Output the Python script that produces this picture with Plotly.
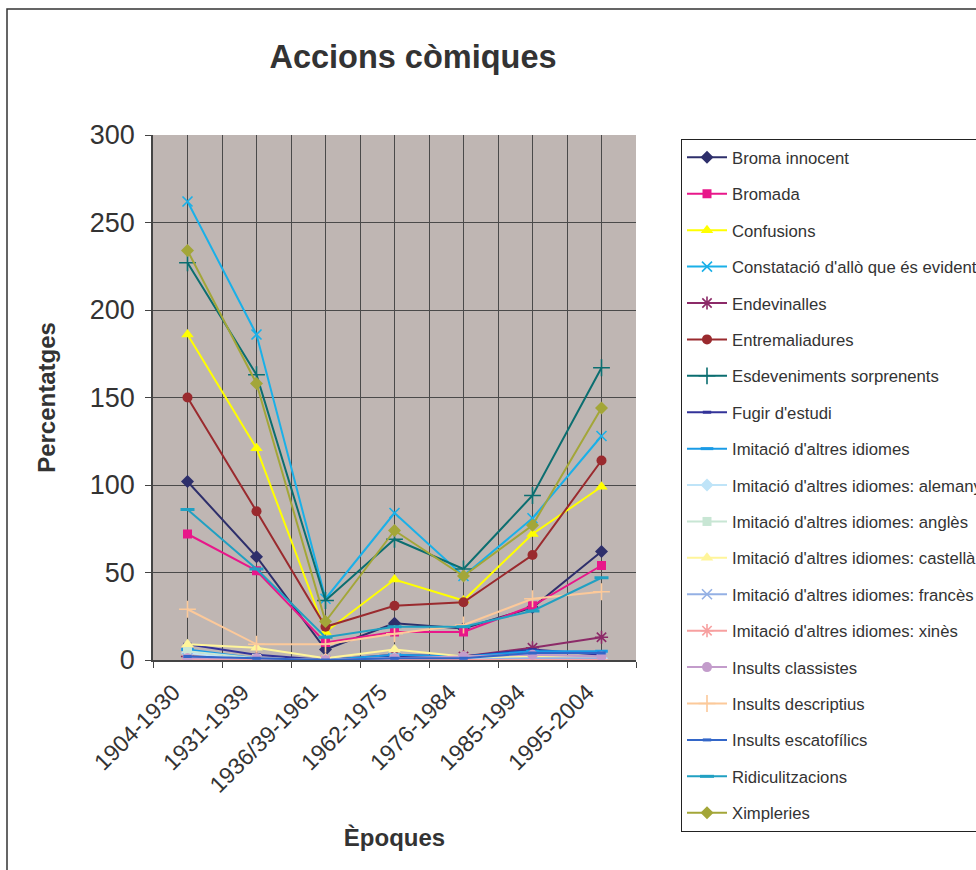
import plotly.graph_objects as go

# Periods on the category axis
epoques = ["1904-1930", "1931-1939", "1936/39-1961", "1962-1975",
           "1976-1984", "1985-1994", "1995-2004"]

# Percentages per period for each kind of comic action
broma_innocent = [102, 59, 6, 21, 18, 30, 62]
bromada = [72, 51, 10, 16, 16, 31, 54]
confusions = [186, 121, 16, 46, 34, 72, 99]
constatacio = [262, 186, 35, 84, 48, 81, 128]
endevinalles = [2, 1, 0, 3, 2, 7, 13]
entremaliadures = [150, 85, 19, 31, 33, 60, 114]
esdeveniments = [227, 163, 34, 69, 52, 94, 167]
fugir_estudi = [9, 3, 0, 2, 2, 6, 3]
imitacio = [6, 1, 0, 3, 2, 5, 5]
imit_alemany = [4, 0, 0, 1, 0, 1, 1]
imit_angles = [5, 1, 0, 1, 1, 2, 1]
imit_castella = [9, 7, 1, 6, 2, 2, 1]
imit_frances = [1, 0, 0, 1, 0, 1, 1]
imit_xines = [0, 0, 0, 0, 0, 0, 0]
insults_classistes = [1, 1, 0, 1, 2, 3, 2]
insults_descriptius = [29, 9, 9, 15, 20, 35, 39]
insults_escatofilics = [2, 1, 0, 1, 1, 4, 4]
ridiculitzacions = [86, 52, 13, 19, 19, 28, 47]
ximpleries = [234, 158, 22, 74, 48, 77, 144]

series = [
    ("Broma innocent", broma_innocent, "#2e2f6b", "diamond", 10, False),
    ("Bromada", bromada, "#e8178a", "square", 9, False),
    ("Confusions", confusions, "#ffff00", "triangle-up", 11, False),
    ("Constatació d'allò que és evident", constatacio, "#1ab0e8", "x-thin-open", 10, True),
    ("Endevinalles", endevinalles, "#8c2a68", "asterisk-open", 11, True),
    ("Entremaliadures", entremaliadures, "#9a2a2e", "circle", 10, False),
    ("Esdeveniments sorprenents", esdeveniments, "#0b6e70", "cross-thin-open", 12, True),
    ("Fugir d'estudi", fugir_estudi, "#333399", "line-ew-open", 6, True),
    ("Imitació d'altres idiomes", imitacio, "#1a9be6", "line-ew-open", 9, True),
    ("Imitació d'altres idiomes: alemany", imit_alemany, "#bfe4f8", "diamond", 10, False),
    ("Imitació d'altres idiomes: anglès", imit_angles, "#c8e6d4", "square", 9, False),
    ("Imitació d'altres idiomes: castellà", imit_castella, "#fff59a", "triangle-up", 11, False),
    ("Imitació d'altres idiomes: francès", imit_frances, "#94b0e4", "x-thin-open", 10, True),
    ("Imitació d'altres idiomes: xinès", imit_xines, "#f7a0a0", "asterisk-open", 11, True),
    ("Insults classistes", insults_classistes, "#c39ccb", "circle", 10, False),
    ("Insults descriptius", insults_descriptius, "#fcc99a", "cross-thin-open", 12, True),
    ("Insults escatofílics", insults_escatofilics, "#3366c8", "line-ew-open", 6, True),
    ("Ridiculitzacions", ridiculitzacions, "#21a0c2", "line-ew-open", 10, True),
    ("Ximpleries", ximpleries, "#a3a638", "diamond", 10, False),
]

fig = go.Figure()
for i, (name, vals, color, symbol, size, is_open) in enumerate(series):
    marker = dict(symbol=symbol, size=size, color=color)
    if is_open:
        marker["line"] = dict(color=color, width=3 if symbol.startswith("line") else 1.6)
    fig.add_trace(go.Scatter(
        x=epoques, y=vals, name=name, mode="lines+markers",
        line=dict(color=color, width=2), marker=marker,
        legendgroup=f"g{i}",
    ))

L, R, T, B = 153, 636, 135, 660
W, H = 976, 870
GRID = "#4a4a4a"

font = "Liberation Sans, Arial, sans-serif"

# extra vertical grid lines through the middle of each period
centre_lines = [dict(
    type="line", xref="x", yref="paper", x0=e, x1=e, y0=0, y1=1,
    line=dict(color=GRID, width=1), layer="between",
) for e in epoques]

frame = dict(
    type="rect", xref="paper", yref="paper",
    x0=(7 - L) / (R - L), x1=2.0,
    y0=-1.0, y1=(B - 9) / (B - T),
    line=dict(color="#333333", width=1.5), fillcolor="rgba(0,0,0,0)",
    layer="below",
)

fig.update_layout(
    width=W, height=H,
    margin=dict(l=L, r=W - R, t=T, b=H - B, autoexpand=False),
    paper_bgcolor="white",
    plot_bgcolor="#bfb6b3",
    font=dict(family=font, color="#333333"),
    title=dict(text="<b>Accions còmiques</b>", font=dict(size=32.5, color="#333333"),
               xref="container", x=413 / W, xanchor="center",
               yref="container", y=1 - 57 / H, yanchor="middle"),
    xaxis=dict(
        type="category", categoryorder="array", categoryarray=epoques,
        range=[-0.5, 6.5], tickangle=-45, tickson="boundaries",
        tickfont=dict(size=23, color="#333333"),
        ticklabelshift=-14, ticklabelstandoff=8,
        showgrid=True, gridcolor=GRID, gridwidth=1,
        ticks="outside", ticklen=6, tickcolor="#444444",
        showline=True, linecolor="#444444", linewidth=1.5,
        title=dict(text="<b>Èpoques</b>", font=dict(size=24, color="#333333"), standoff=32),
        zeroline=False,
    ),
    yaxis=dict(
        range=[0, 300], dtick=50, tick0=0,
        tickfont=dict(size=27, color="#333333"),
        showgrid=True, gridcolor=GRID, gridwidth=1,
        ticks="outside", ticklen=6, tickcolor="#444444",
        ticklabelstandoff=5,
        showline=True, linecolor="#444444", linewidth=1.5,
        zeroline=False,
        title=dict(text="<b>Percentatges</b>", font=dict(size=24, color="#333333"), standoff=27),
    ),
    legend=dict(
        x=(681 - L) / (R - L), xanchor="left",
        y=(B - 139) / (B - T), yanchor="top",
        bgcolor="white", bordercolor="#222222", borderwidth=1,
        font=dict(size=16.7, color="#333333"),
        tracegroupgap=11.7, itemwidth=40, traceorder="grouped",
        maxheight=820,
    ),
    shapes=centre_lines + [frame],
    showlegend=True,
)

fig.write_html("out.html")
